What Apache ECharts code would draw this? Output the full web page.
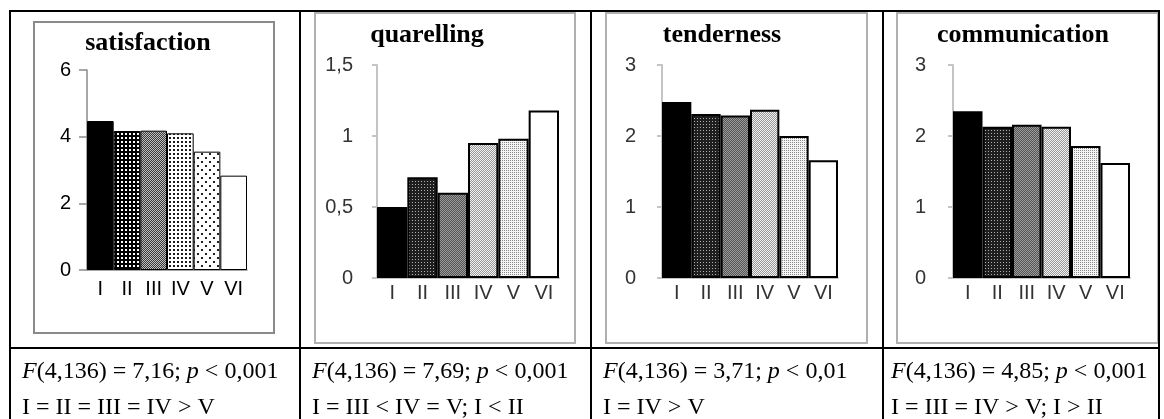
<!DOCTYPE html>
<html>
<head>
<meta charset="utf-8">
<script src="https://cdn.jsdelivr.net/npm/echarts@6/dist/echarts.min.js"></script>
<style>
html,body{margin:0;padding:0;background:#fff;}
#c{width:1164px;height:419px;}
</style>
</head>
<body>
<div id="c"></div>
<script>
// ---- data ----
const categories = ['I', 'II', 'III', 'IV', 'V', 'VI'];
const panelTitles = ['satisfaction', 'quarelling', 'tenderness', 'communication'];
const satisfaction = [4.47, 4.17, 4.18, 4.10, 3.55, 2.83];
const quarelling = [0.50, 0.71, 0.60, 0.95, 0.98, 1.18];
const tenderness = [2.48, 2.31, 2.29, 2.37, 2.00, 1.66];
const communication = [2.35, 2.13, 2.16, 2.13, 1.86, 1.62];
const yMax = [6, 1.5, 3, 3];
const yInterval = [2, 0.5, 1, 1];
const statsRow = [
  '{i|F}(4,136) = 7,16; {i|p} < 0,001',
  '{i|F}(4,136) = 7,69; {i|p} < 0,001',
  '{i|F}(4,136) = 3,71; {i|p} < 0,01',
  '{i|F}(4,136) = 4,85; {i|p} < 0,001'
];
const compareRow = [
  'I = II = III = IV > V',
  'I = III < IV = V; I < II',
  'I = IV > V',
  'I = III = IV > V; I > II'
];
const seriesValues = [satisfaction, quarelling, tenderness, communication];

// ---- patterns ----
function pat(w, h, bg, fg, dots) {
  const c = document.createElement('canvas');
  c.width = w; c.height = h;
  const g = c.getContext('2d');
  g.fillStyle = bg; g.fillRect(0, 0, w, h);
  g.fillStyle = fg;
  dots.forEach(d => g.fillRect(d[0], d[1], d[2] || 1, d[3] || 1));
  return { image: c, repeat: 'repeat' };
}
const fills1 = [
  '#000000',
  pat(4, 4, '#000', '#fff', [[1, 1, 2, 2]]),
  pat(2, 2, '#3a3a3a', '#c0c0c0', [[0, 0], [1, 1]]),
  pat(4, 4, '#fff', '#1a1a1a', [[1, 1, 2, 2]]),
  pat(8, 8, '#fff', '#222', [[1, 1, 2, 2], [5, 5, 2, 2]]),
  '#ffffff'
];
const fills2 = [
  '#000000',
  pat(3, 3, '#1e1e1e', '#b0b0b0', [[1, 1]]),
  pat(2, 2, '#555', '#9a9a9a', [[0, 0], [1, 1]]),
  pat(2, 2, '#999', '#f0f0f0', [[0, 0], [1, 1]]),
  pat(2, 2, '#f4f4f4', '#8a8a8a', [[0, 0]]),
  '#ffffff'
];

// ---- layout ----
const grids = [
  { left: 87, top: 70, width: 160, height: 200 },
  { left: 377, top: 65, width: 182, height: 213 },
  { left: 662, top: 65, width: 176, height: 213 },
  { left: 953, top: 65, width: 177, height: 213 }
];
const titleX = [148, 427, 722, 1023];
const titleY = [43, 35, 35, 35];
const labelMargin = [16, 24, 26, 27];
const colTextX = [22, 312, 603, 891];

const xAxes = [], yAxes = [], series = [];
grids.forEach((g, i) => {
  const first = i === 0;
  const axisColor = first ? '#8a8a8a' : '#c4c4c4';
  xAxes.push({
    type: 'category', gridIndex: i, data: categories,
    axisLine: { lineStyle: { color: axisColor, width: first ? 1.5 : 2 } },
    axisTick: { show: false },
    axisLabel: { color: first ? '#000' : '#333', fontFamily: 'Liberation Sans', fontSize: 20, margin: first ? 9 : 5, interval: 0 }
  });
  yAxes.push({
    type: 'value', gridIndex: i, min: 0, max: yMax[i], interval: yInterval[i],
    splitLine: { show: false },
    axisLine: { show: true, lineStyle: { color: axisColor, width: first ? 1.5 : 2 } },
    axisTick: { show: true, length: first ? 8 : 5, lineStyle: { color: axisColor, width: first ? 1.5 : 2 } },
    axisLabel: {
      color: first ? '#000' : '#333', fontFamily: 'Liberation Sans', fontSize: 20, margin: labelMargin[i],
      formatter: v => String(v).replace('.', ',')
    }
  });
  const fills = first ? fills1 : fills2;
  series.push({
    type: 'bar', xAxisIndex: i, yAxisIndex: i,
    barCategoryGap: '0%',
    data: seriesValues[i].map((v, k) => ({
      value: v,
      itemStyle: { color: fills[k], borderColor: '#000', borderWidth: first ? 1 : 2 }
    })),
    animation: false
  });
});

const graphics = [];
// panel frames
graphics.push({ type: 'rect', shape: { x: 34, y: 22, width: 240, height: 311 }, style: { fill: null, stroke: '#8a8a8a', lineWidth: 2 }, z: 0 });
[[315, 260], [606, 261], [897, 261]].forEach(p => {
  graphics.push({ type: 'rect', shape: { x: p[0], y: 13, width: p[1], height: 330 }, style: { fill: null, stroke: '#b0b0b0', lineWidth: 2 }, z: 0 });
});
// table lines
const L = (x1, y1, x2, y2) => graphics.push({ type: 'line', shape: { x1, y1, x2, y2 }, style: { stroke: '#000', lineWidth: 2 }, z: 10 });
L(9, 11, 1160, 11);
L(10, 11, 10, 419);
L(1159, 11, 1159, 419);
L(300, 11, 300, 419);
L(591, 11, 591, 419);
L(883, 11, 883, 419);
L(9, 348, 1160, 348);
// panel titles
panelTitles.forEach((t, i) => {
  graphics.push({
    type: 'text', z: 20,
    style: {
      text: t, x: titleX[i], y: titleY[i],
      textAlign: 'center', align: 'center', textVerticalAlign: 'middle', verticalAlign: 'middle',
      font: 'bold 26px "Liberation Serif"', fill: '#000'
    }
  });
});

const titles = [];
statsRow.forEach((t, i) => {
  titles.push({
    text: t, left: colTextX[i], top: 360,
    textStyle: {
      fontFamily: 'Liberation Serif', fontSize: 24, fontWeight: 'normal', color: '#000',
      rich: { i: { fontStyle: 'italic', fontFamily: 'Liberation Serif', fontSize: 24, color: '#000' } }
    },
    padding: 0
  });
});
compareRow.forEach((t, i) => {
  titles.push({
    text: t, left: colTextX[i], top: 396,
    textStyle: { fontFamily: 'Liberation Serif', fontSize: 24, fontWeight: 'normal', color: '#000' },
    padding: 0
  });
});

const chart = echarts.init(document.getElementById('c'), null, { renderer: 'canvas' });
chart.setOption({
  animation: false,
  backgroundColor: '#fff',
  title: titles,
  grid: grids,
  xAxis: xAxes,
  yAxis: yAxes,
  series: series,
  graphic: graphics
});
</script>
</body>
</html>
